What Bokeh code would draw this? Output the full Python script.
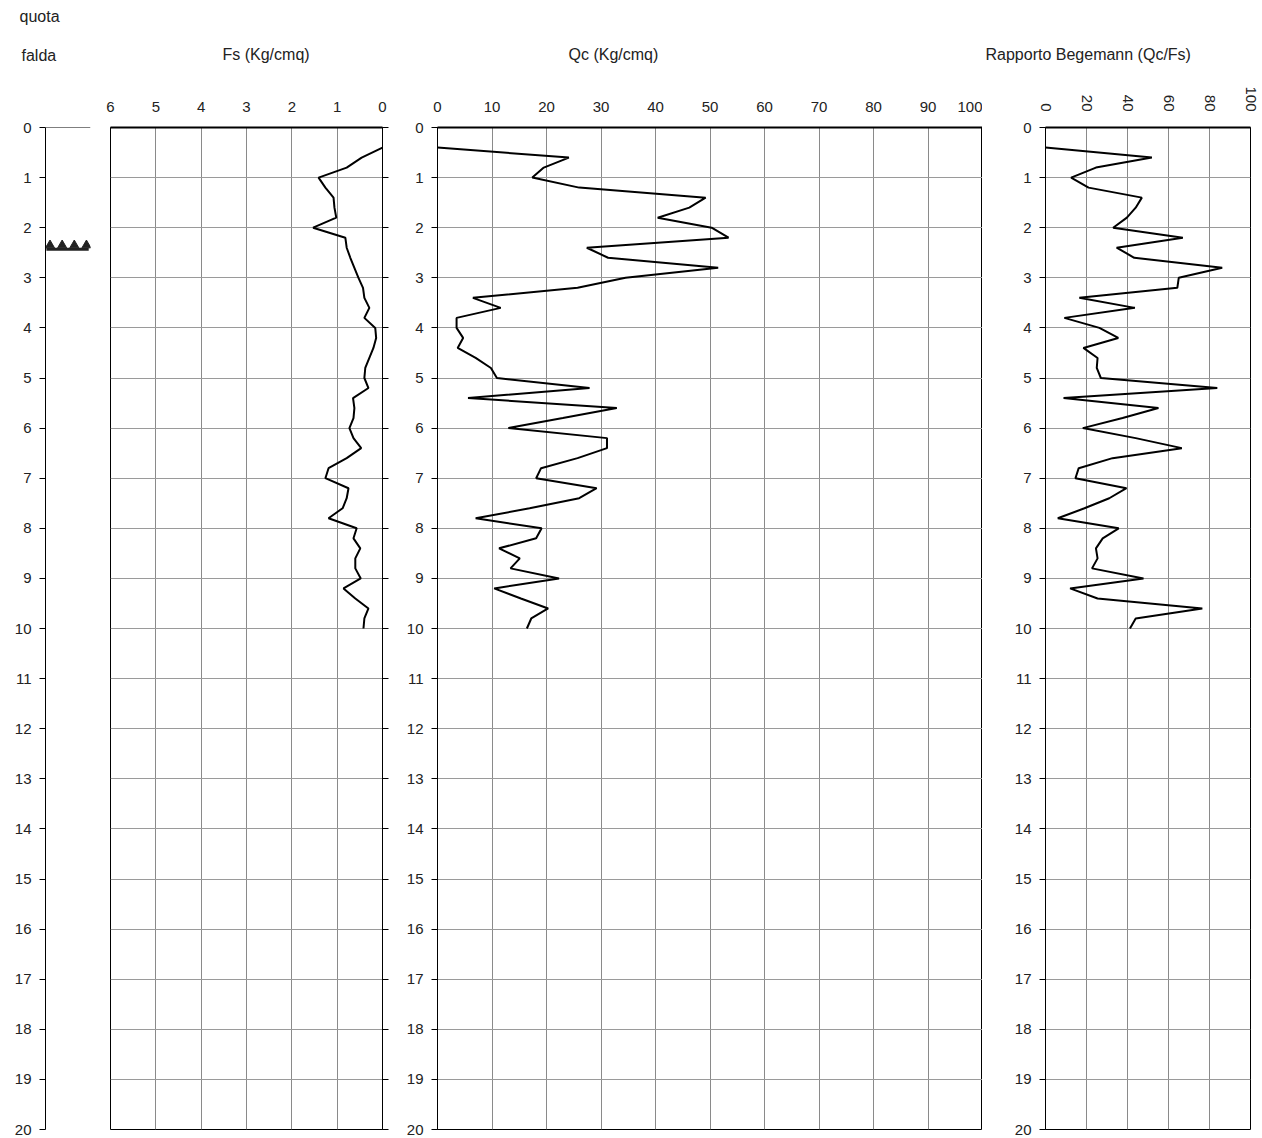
import math
from bokeh.plotting import figure
from bokeh.models import Range1d, LinearAxis, Span, FixedTicker, Title
from bokeh.layouts import row
from bokeh.embed import file_html
from bokeh.resources import INLINE

# depth (m) every 0.2 m
depth = [round(0.4 + 0.2 * i, 1) for i in range(49)]

fs = [0, 0.46, 0.79, 1.41, 1.26, 1.08, 1.06, 1.02, 1.53, 0.82, 0.79, 0.71, 0.62,
      0.53, 0.43, 0.40, 0.29, 0.40, 0.16, 0.14, 0.20, 0.29, 0.38, 0.40, 0.31,
      0.65, 0.62, 0.64, 0.73, 0.64, 0.47, 0.79, 1.19, 1.26, 0.75, 0.79, 0.88,
      1.19, 0.57, 0.64, 0.49, 0.60, 0.60, 0.48, 0.86, 0.60, 0.31, 0.40, 0.42]

qc = [0, 24.1, 19.5, 17.4, 26, 49.2, 46.2, 40.4, 50.3, 53.4, 27.4, 31.3, 51.5,
      34.5, 25.7, 6.5, 11.6, 3.5, 3.5, 4.7, 3.7, 7, 9.8, 10.9, 27.9, 5.6, 32.9,
      23.0, 13, 31.1, 31.1, 25.7, 19, 18.1, 29.2, 26, 16.9, 7, 19.1, 18.1, 11.3,
      15.1, 13.4, 22.3, 10.4, 15.3, 20.3, 17.2, 16.4]

rapp = [0, 51.9, 24.6, 12.5, 21, 47, 44, 39.7, 33, 67, 34.7, 43.3, 86.2, 65,
        64.3, 16.5, 43.6, 9.2, 26.3, 35.5, 18.5, 25.4, 25, 27, 83.8, 8.8, 55.1,
        37.6, 18.2, 44, 66.5, 32.7, 16.2, 14.6, 39.5, 31.1, 19, 6, 35.7, 27.9,
        24.6, 25.4, 22.7, 47.8, 12, 25.4, 76.5, 44, 41.2]

falda_depth = 2.35
falda_marks = [0.1, 0.37, 0.64, 0.91]

FONT = "Liberation Sans"
TXT = "#222222"
H = 1137
TOP = 127
BOT = 8


def make_fig(width, x_range, left, right):
    p = figure(width=width, height=H, x_range=x_range, y_range=Range1d(20, 0),
               output_backend="svg", toolbar_location=None,
               x_axis_location=None, y_axis_location=None,
               min_border_top=TOP, min_border_bottom=BOT,
               min_border_left=left, min_border_right=right)
    p.background_fill_color = "white"
    p.border_fill_color = "white"
    p.outline_line_color = "black"
    return p


def depth_axis(p, side, labels=True):
    ax = LinearAxis(ticker=FixedTicker(ticks=list(range(21))))
    ax.major_tick_out = 6
    ax.major_tick_in = 0
    ax.minor_tick_line_color = None
    ax.axis_line_color = "black"
    ax.major_label_text_font = FONT
    ax.major_label_text_font_size = "15px" if labels else "0px"
    ax.major_label_text_color = TXT
    ax.major_label_standoff = 8
    p.add_layout(ax, side)


def top_axis(p, ticks, orientation="horizontal"):
    ax = LinearAxis(ticker=FixedTicker(ticks=ticks))
    ax.major_tick_out = 0
    ax.major_tick_in = 0
    ax.minor_tick_line_color = None
    ax.axis_line_color = "black"
    ax.axis_line_width = 2
    ax.major_label_text_font = FONT
    ax.major_label_text_font_size = "15px"
    ax.major_label_text_color = TXT
    ax.major_label_standoff = 16
    ax.major_label_orientation = orientation
    p.add_layout(ax, "above")
    return ax


def grids(p, xticks):
    p.xgrid.ticker = FixedTicker(ticks=xticks)
    p.ygrid.ticker = FixedTicker(ticks=list(range(21)))
    p.xgrid.grid_line_color = "#8a8a8a"
    p.ygrid.grid_line_color = "#9a9a9a"


def title(p, text, offset, standoff):
    p.add_layout(Title(text=text, align="left", offset=offset, standoff=standoff,
                       text_font=FONT, text_font_size="16px", text_font_style="normal",
                       text_color=TXT), "above")


# falda column
pa = make_fig(100, Range1d(0, 1), 45, 10)
pa.outline_line_color = None
pa.xgrid.visible = False
pa.ygrid.visible = False
depth_axis(pa, "left")
# blank inner title as a spacer, so the column titles sit high
title(pa, " ", 0, 25)
title(pa, "falda", -24, 40)
title(pa, "quota", -26, 0)
pa.add_layout(Span(location=0, dimension="width", line_color="black", line_width=1))
pa.line(x=[falda_marks[0] - 0.08, falda_marks[-1] + 0.05], y=[falda_depth + 0.08] * 2,
        line_color="#222222", line_width=3)
pa.scatter(x=falda_marks, y=[falda_depth] * len(falda_marks), marker="triangle",
           size=9, color="#222222")

# Fs
pb = make_fig(300, Range1d(6, 0), 10, 18)
grids(pb, list(range(7)))
top_axis(pb, list(range(7)))
depth_axis(pb, "right", labels=False)
pb.line(fs, depth, line_color="black", line_width=2)
title(pb, "Fs (Kg/cmq)", 112, 72)

# Qc
pc = make_fig(582, Range1d(0, 100), 37, 0)
grids(pc, list(range(0, 101, 10)))
top_axis(pc, list(range(0, 101, 10)))
depth_axis(pc, "left")
pc.line(qc, depth, line_color="black", line_width=2)
title(pc, "Qc (Kg/cmq)", 131, 72)

# Begemann ratio
pd = make_fig(276, Range1d(0, 100), 63, 8)
grids(pd, list(range(0, 101, 20)))
top_axis(pd, list(range(0, 101, 20)), orientation=-math.pi / 2)
depth_axis(pd, "left")
pd.line(rapp, depth, line_color="black", line_width=2)
title(pd, "Rapporto Begemann (Qc/Fs)", -60, 41)

layout = row(pa, pb, pc, pd, spacing=0)
open("out.html", "w").write(file_html(layout, INLINE))
